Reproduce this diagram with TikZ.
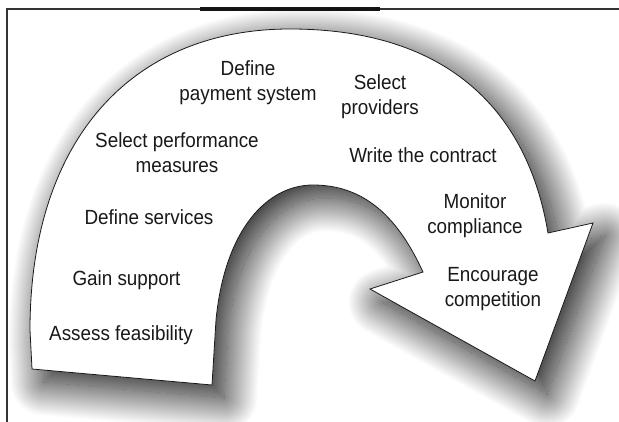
\documentclass[tikz,border=0pt]{standalone}
\usepackage{fontspec}
\setmainfont{Liberation Sans}[FakeStretch=0.92]
\usetikzlibrary{shadows.blur}

\begin{document}
\begin{tikzpicture}[x=1pt,y=-1pt,
stepnode/.style={align=center, inner sep=0pt, text=black!90, font=\fontsize{20.5}{25.5}\selectfont},
arrowband/.style={draw=black!90, line width=0.8pt, fill=white, line join=miter,
  blur shadow={shadow xshift=12pt, shadow yshift=-13pt, shadow blur radius=34pt,
    shadow blur steps=60, shadow opacity=95}},
framerule/.style={draw=black!80, line width=2pt}
]
\useasboundingbox (0,0) rectangle (619,422);

% frame
\draw[framerule] (7,422) -- (7,9) -- (619,9);
\draw[line width=4pt, black!92] (200,9) -- (380,9);

% curved arrow
\path[arrowband] (32,369) -- (30,330)
    .. controls (30,143) and (129,29) .. (290,29)
    .. controls (450,29) and (528,113) .. (548,233)
    -- (593,223) -- (535,381) -- (370,289) -- (423,272)
    .. controls (400,222) and (368,185) .. (313,185)
    .. controls (268,185) and (225,228) .. (216,320)
    -- (212,385) -- cycle;

% steps
\node [stepnode] (assess) at (121,335.5) {Assess feasibility};
\node [stepnode] (gain) at (126.5,280.5) {Gain support};
\node [stepnode] (services) at (149,217.5) {Define services};
\node [stepnode] (measures) at (177,152.5) {Select performance\\measures};
\node [stepnode] (payment) at (248,82.5) {Define\\payment system};
\node [stepnode] (providers) at (380,96.5) {Select\\providers};
\node [stepnode] (contract) at (423,155.5) {Write the contract};
\node [stepnode] (monitor) at (475,215.5) {Monitor\\compliance};
\node [stepnode] (compete) at (493,289) {Encourage\\competition};
\end{tikzpicture}
\end{document}
